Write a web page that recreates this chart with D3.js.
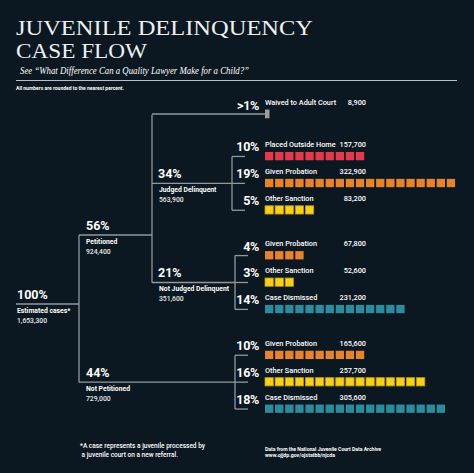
<!DOCTYPE html>
<html><head><meta charset="utf-8">
<script src="https://cdn.jsdelivr.net/npm/d3@7"></script>
<style>
html,body{margin:0;padding:0;background:#0c1821;}
svg{display:block;}
text{font-family:Roboto,"Open Sans",sans-serif;fill:#fff;}
</style></head>
<body>
<svg id="chart" width="474" height="473"></svg>
<script>
// ---------- data ----------
const titleLines = ["JUVENILE DELINQUENCY", "CASE FLOW"];
const subtitle = "See \u201cWhat Difference Can a Quality Lawyer Make for a Child?\u201d";
const noteTop = "All numbers are rounded to the nearest percent.";
const footLeft = ["*A case represents a juvenile processed by", " a juvenile court on a new referral."];
const footRight = ["Data from the National Juvenile Court Data Archive", "www.ojjdp.gov/ojstatbb/njcda"];

// tree nodes
const nodeLabels = ["Estimated cases*", "Petitioned", "Not Petitioned", "Judged Delinquent", "Not Judged Delinquent"];
const nodePct = ["100%", "56%", "44%", "34%", "21%"];
const nodeCounts = [1653300, 924400, 729000, 563900, 351600];
const nodeParent = [-1, 0, 0, 1, 1];

// outcomes
const outcomeLabels = ["Waived to Adult Court", "Placed Outside Home", "Given Probation", "Other Sanction",
  "Given Probation", "Other Sanction", "Case Dismissed",
  "Given Probation", "Other Sanction", "Case Dismissed"];
const outcomePctLabels = [">1%", "10%", "19%", "5%", "4%", "3%", "14%", "10%", "16%", "18%"];
const outcomeSquares = [0.54, 10, 19, 5, 4, 3, 14, 10, 16, 18];
const outcomeCounts = [8900, 157700, 322900, 83200, 67800, 52600, 231200, 165600, 257700, 305600];
const outcomeType = ["Waived", "Placed", "Probation", "Other", "Probation", "Other", "Dismissed", "Probation", "Other", "Dismissed"];
const outcomeParent = [1, 3, 3, 3, 4, 4, 4, 2, 2, 2];

// ---------- styles / layout ----------
const typeColor = {Waived: "#9b9b9b", Placed: "#e5384b", Probation: "#e8832a", Other: "#f5d11a", Dismissed: "#2a8c9c"};
const typeStroke = {Waived: "none", Placed: "none", Probation: "none", Other: "#b8960c", Dismissed: "none"};
const lineColor = "#8f989e";
const fmt = d3.format(",");

const svg = d3.select("#chart");

// title
svg.append("text").attr("x", 16).attr("y", 35).attr("textLength", 297).attr("lengthAdjust", "spacingAndGlyphs")
  .style("font-family", "'Liberation Serif','DejaVu Serif',serif").style("font-size", "22px").style("fill", "#eef0f2")
  .text(titleLines[0]);
svg.append("text").attr("x", 16).attr("y", 57.5).attr("textLength", 131).attr("lengthAdjust", "spacingAndGlyphs")
  .style("font-family", "'Liberation Serif','DejaVu Serif',serif").style("font-size", "22px").style("fill", "#eef0f2")
  .text(titleLines[1]);
svg.append("text").attr("x", 20).attr("y", 74).attr("textLength", 229).attr("lengthAdjust", "spacingAndGlyphs")
  .style("font-family", "'Liberation Serif','DejaVu Serif',serif").style("font-style", "italic").style("font-size", "10px")
  .text(subtitle);
svg.append("line").attr("x1", 16).attr("x2", 457).attr("y1", 80.5).attr("y2", 80.5)
  .attr("stroke", "#b9c0c6").attr("stroke-width", 1);
svg.append("text").attr("x", 16).attr("y", 90).attr("textLength", 108).attr("lengthAdjust", "spacingAndGlyphs")
  .style("font-size", "5.3px").style("font-weight", 700).text(noteTop);

// scales
const groupOf = p => ({1: 0, 3: 1, 4: 2, 2: 3})[p];
const groupGap = [0, 0.56, 1.245, 1.95];
const yRow = d3.scaleLinear().domain([0, 1]).range([105, 131.9]); // row baseline by slot
const rowBase = i => yRow(i + groupGap[groupOf(outcomeParent[i])]);
const rowMid = i => rowBase(i) + 9.5;
const xSq = d3.scaleLinear().domain([0, 1]).range([265, 275.1]);
const sqSize = 8.3;

// node positions
const depthX = [16, 79, 152];
const nodeDepth = nodeParent.map(function depth(p) { return p < 0 ? 0 : 1 + depth(nodeParent[p]); });
function kidsOut(n) { return outcomeParent.map((p, i) => p === n ? i : -1).filter(i => i >= 0); }
const nodeY = [];
nodeY[3] = rowMid(kidsOut(3)[1]);
nodeY[4] = rowMid(kidsOut(4)[1]);
nodeY[2] = rowMid(kidsOut(2)[1]);
nodeY[1] = 235;
nodeY[0] = 304;
// x of each node's child-connector vertical
const bracketX = {0: 79, 1: 152, 2: 235, 3: 232, 4: 235};

const g = svg.append("g").attr("stroke", lineColor).attr("stroke-width", 1.3).attr("fill", "none");
// node horizontal lines
nodeLabels.forEach((_, n) => {
  const x1 = nodeParent[n] < 0 ? depthX[0] : bracketX[nodeParent[n]];
  g.append("line").attr("x1", x1).attr("x2", bracketX[n]).attr("y1", nodeY[n]).attr("y2", nodeY[n]);
});
// verticals
nodeLabels.forEach((_, n) => {
  const ys = [];
  nodeParent.forEach((p, c) => { if (p === n) ys.push(nodeY[c]); });
  kidsOut(n).forEach(i => ys.push(rowMid(i)));
  if (ys.length) g.append("line").attr("x1", bracketX[n]).attr("x2", bracketX[n])
    .attr("y1", d3.min(ys)).attr("y2", d3.max(ys));
});
// outcome connectors
outcomeLabels.forEach((_, i) => {
  const p = outcomeParent[i];
  const x1 = bracketX[p];
  const x2 = p === 1 ? xSq(0) : x1 + 13;
  const y = i === 0 ? rowBase(i) + 9 : rowMid(i);
  g.append("line").attr("x1", x1).attr("x2", x2).attr("y1", y).attr("y2", y);
});

// node texts
nodeLabels.forEach((lab, n) => {
  const x = depthX[nodeDepth[n]] + (nodeDepth[n] === 0 ? 1 : 7);
  const y = nodeY[n];
  svg.append("text").attr("x", x - (nodeDepth[n] === 2 ? 1 : 0)).attr("y", y - 5)
    .style("font-size", "12.5px").style("font-weight", 700).text(nodePct[n]);
  svg.append("text").attr("x", x).attr("y", y + 9)
    .style("font-size", "6.8px").style("font-weight", 700).text(lab);
  svg.append("text").attr("x", x).attr("y", y + 18.5)
    .style("font-size", "6.8px").style("font-weight", 500).style("fill", "#e6e8ea").text(fmt(nodeCounts[n]));
});

// outcome rows
outcomeLabels.forEach((lab, i) => {
  const yb = rowBase(i);
  svg.append("text").attr("x", 259).attr("y", yb + 4.5).attr("text-anchor", "end")
    .style("font-size", "12.5px").style("font-weight", 700).style("letter-spacing", "-0.3px").text(outcomePctLabels[i]);
  svg.append("text").attr("x", xSq(0)).attr("y", yb)
    .style("font-size", "7.3px").style("font-weight", 500).text(lab);
  svg.append("text").attr("x", 366).attr("y", yb).attr("text-anchor", "end")
    .style("font-size", "7.3px").style("font-weight", 500).text(fmt(outcomeCounts[i]));
  const n = outcomeSquares[i];
  const t = outcomeType[i];
  if (n < 1) {
    svg.append("rect").attr("x", xSq(0)).attr("y", yb + 4.5).attr("width", sqSize * n).attr("height", sqSize + 0.5)
      .attr("fill", typeColor[t]);
  } else {
    svg.selectAll(null).data(d3.range(n)).enter().append("rect")
      .attr("x", k => xSq(k)).attr("y", yb + 5).attr("width", sqSize).attr("height", sqSize)
      .attr("fill", typeColor[t]).attr("stroke", typeStroke[t]).attr("stroke-width", 0.8);
  }
});

// footers
footLeft.forEach((s, k) => {
  svg.append("text").attr("x", 80).attr("y", 448 + k * 9).attr("textLength", k === 0 ? 125 : 98)
    .attr("lengthAdjust", "spacingAndGlyphs")
    .style("font-size", "7px").style("font-weight", 500).style("white-space", "pre").text(s);
});
footRight.forEach((s, k) => {
  svg.append("text").attr("x", 265).attr("y", 451 + k * 6).attr("textLength", k === 0 ? 116 : 70)
    .attr("lengthAdjust", "spacingAndGlyphs")
    .style("font-size", "5.2px").style("font-weight", 700).text(s);
});
</script>
</body></html>
